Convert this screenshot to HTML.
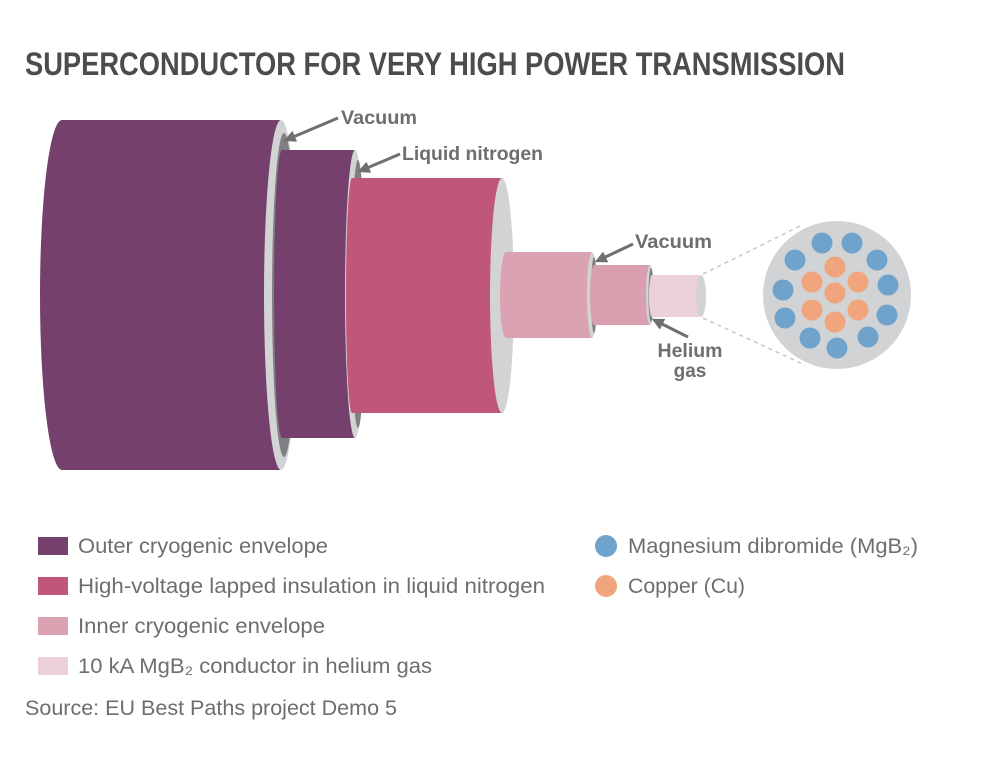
<!DOCTYPE html>
<html><head><meta charset="utf-8"><style>
html,body{margin:0;padding:0;background:#fff;}
svg{display:block;}
text{font-family:"Liberation Sans",sans-serif;}
</style></head><body>
<svg width="1000" height="762" viewBox="0 0 1000 762" xmlns="http://www.w3.org/2000/svg">
<defs>
<marker id="ah" viewBox="0 0 10 10" refX="8" refY="5" markerWidth="4" markerHeight="4" orient="auto"><path d="M0,0 L10,5 L0,10 z" fill="#6e6f71"/></marker>
</defs>
<text x="25" y="75" font-size="32" font-weight="bold" fill="#4b4c4e" textLength="820" lengthAdjust="spacingAndGlyphs">SUPERCONDUCTOR FOR VERY HIGH POWER TRANSMISSION</text>

<!-- outer cylinder -->
<path d="M62,120 L280,120 L280,470 L62,470 A22,175 0 0 1 62,120 Z" fill="#76406d"/>
<ellipse cx="281" cy="295" rx="17" ry="175" fill="#d2d3d5"/>
<ellipse cx="284" cy="295" rx="12" ry="162" fill="#7e8083"/>
<!-- second -->
<path d="M282,150 L355,150 L355,438 L282,438 A8,144 0 0 1 282,150 Z" fill="#76406d"/>
<ellipse cx="355" cy="294" rx="10" ry="144" fill="#d2d3d5"/>
<ellipse cx="358" cy="294" rx="7" ry="134" fill="#7e8083"/>
<!-- third -->
<path d="M352,178 L502,178 L502,413 L352,413 A6,117.5 0 0 1 352,178 Z" fill="#c0567a"/>
<ellipse cx="502" cy="295.5" rx="12" ry="117.5" fill="#d2d3d5"/>
<!-- fourth -->
<path d="M506,252 L592,252 L592,338 L506,338 A6,43 0 0 1 506,252 Z" fill="#dba3b1"/>
<ellipse cx="592" cy="295" rx="5" ry="43" fill="#d2d3d5"/>
<ellipse cx="594" cy="295" rx="3" ry="38" fill="#7e8083"/>
<!-- fifth -->
<path d="M594,265 L650,265 L650,325 L594,325 A4,30 0 0 1 594,265 Z" fill="#d99fae"/>
<ellipse cx="650" cy="295" rx="4" ry="30" fill="#d2d3d5"/>
<ellipse cx="651" cy="295" rx="2.5" ry="27" fill="#7e8083"/>
<!-- sixth -->
<path d="M652,275 L700,275 L700,317 L652,317 A3,21 0 0 1 652,275 Z" fill="#ecd0d8"/>
<ellipse cx="701" cy="296" rx="5" ry="21" fill="#d2d3d5"/>

<!-- dashed zoom lines -->
<line x1="703" y1="274" x2="800" y2="226" stroke="#c5c6c8" stroke-width="1.5" stroke-dasharray="4,4"/>
<line x1="703" y1="318" x2="805" y2="365" stroke="#c5c6c8" stroke-width="1.5" stroke-dasharray="4,4"/>
<circle cx="837" cy="295" r="74" fill="#d2d3d5"/>
<g fill="#6fa3cc">
<circle cx="822" cy="243" r="10.5"/><circle cx="852" cy="243" r="10.5"/>
<circle cx="795" cy="260" r="10.5"/><circle cx="877" cy="260" r="10.5"/>
<circle cx="783" cy="290" r="10.5"/><circle cx="888" cy="285" r="10.5"/>
<circle cx="785" cy="318" r="10.5"/><circle cx="887" cy="315" r="10.5"/>
<circle cx="810" cy="338" r="10.5"/><circle cx="837" cy="348" r="10.5"/>
<circle cx="868" cy="337" r="10.5"/>
</g>
<g fill="#f0a57c">
<circle cx="835" cy="267" r="10.5"/><circle cx="812" cy="282" r="10.5"/>
<circle cx="858" cy="282" r="10.5"/><circle cx="835" cy="293" r="10.5"/>
<circle cx="812" cy="310" r="10.5"/><circle cx="858" cy="310" r="10.5"/>
<circle cx="835" cy="322" r="10.5"/>
</g>

<!-- labels -->
<g stroke="#6e6f71" stroke-width="3" marker-end="url(#ah)" fill="none">
<line x1="338" y1="118" x2="286" y2="140"/>
<line x1="400" y1="154" x2="360" y2="171"/>
<line x1="633" y1="244" x2="597" y2="261"/>
<line x1="688" y1="337" x2="654" y2="320"/>
</g>
<g fill="#6d6e70" font-weight="bold" font-size="19">
<text x="341" y="124" textLength="76" lengthAdjust="spacingAndGlyphs">Vacuum</text>
<text x="402" y="160" textLength="141" lengthAdjust="spacingAndGlyphs">Liquid nitrogen</text>
<text x="635" y="248" textLength="77" lengthAdjust="spacingAndGlyphs">Vacuum</text>
<text x="690" y="357" text-anchor="middle" textLength="65" lengthAdjust="spacingAndGlyphs">Helium</text>
<text x="690" y="377" text-anchor="middle">gas</text>
</g>

<!-- legend -->
<rect x="38" y="537" width="30" height="18" fill="#76406d"/>
<rect x="38" y="577" width="30" height="18" fill="#c0567a"/>
<rect x="38" y="617" width="30" height="18" fill="#dba3b1"/>
<rect x="38" y="657" width="30" height="18" fill="#ecd0d8"/>
<g fill="#6d6e70" font-size="21">
<text x="78" y="553" textLength="250" lengthAdjust="spacingAndGlyphs">Outer cryogenic envelope</text>
<text x="78" y="593" textLength="467" lengthAdjust="spacingAndGlyphs">High-voltage lapped insulation in liquid nitrogen</text>
<text x="78" y="633" textLength="247" lengthAdjust="spacingAndGlyphs">Inner cryogenic envelope</text>
<text x="78" y="673" textLength="354" lengthAdjust="spacingAndGlyphs">10 kA MgB₂ conductor in helium gas</text>
<text x="25" y="715" textLength="372" lengthAdjust="spacingAndGlyphs">Source: EU Best Paths project Demo 5</text>
<text x="628" y="553" textLength="290" lengthAdjust="spacingAndGlyphs">Magnesium dibromide (MgB₂)</text>
<text x="628" y="593" textLength="117" lengthAdjust="spacingAndGlyphs">Copper (Cu)</text>
</g>
<circle cx="606" cy="546" r="11" fill="#6fa3cc"/>
<circle cx="606" cy="586" r="11" fill="#f0a57c"/>
</svg>
</body></html>
